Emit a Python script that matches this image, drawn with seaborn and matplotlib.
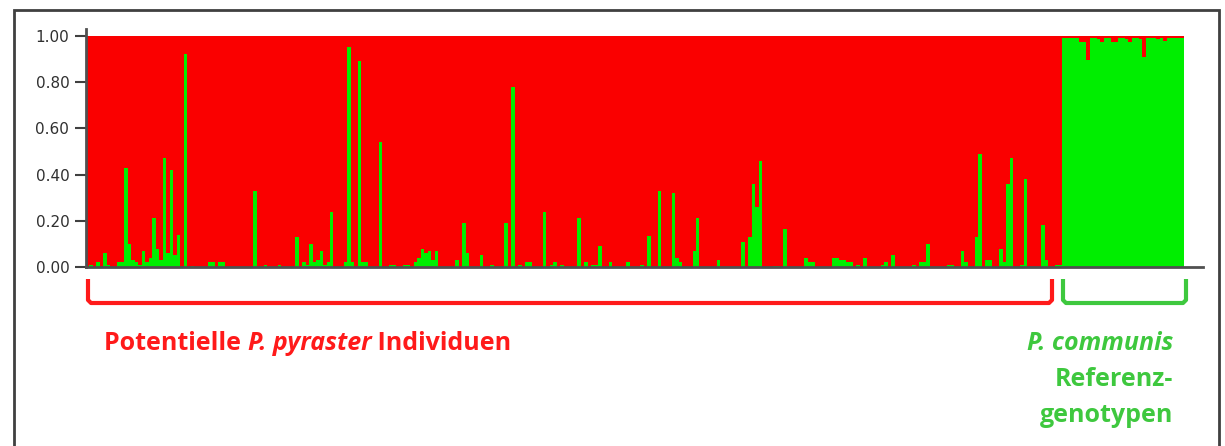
import numpy as np
import pandas as pd
import matplotlib
matplotlib.use("Agg")
import matplotlib.pyplot as plt
from matplotlib.lines import Line2D
from matplotlib.patches import Rectangle
import seaborn as sns

# green cluster membership (P. communis cluster) per individual
pyraster_green = [
    0, .01, 0, .02, 0, .06, .01, 0, 0, .02, .02, .43, .10, .03, .02, .01, .07, .02, .04, .21,
    .08, .03, .47, .06, .42, .05, .14, 0, .92, 0, .005, 0, 0, 0, 0, .02, .02, 0, .02, .02,
    0, 0, 0, 0, 0, 0, 0, 0, .33, 0, 0, .01, 0, 0, 0, .01, 0, 0, 0, 0,
    .13, 0, .02, .01, .10, .02, .03, .07, .01, .02, .24, 0, 0, 0, .02, .95, .02, 0, .89, .02,
    .02, 0, 0, 0, .54, 0, 0, .01, .01, 0, 0, .01, .01, 0, .02, .04, .08, .06, .07, .03,
    .07, 0, 0, 0, 0, 0, .03, 0, .19, .06, 0, 0, 0, .05, 0, 0, .01, 0, 0, 0,
    .19, 0, .78, 0, .01, 0, .02, .02, 0, 0, 0, .24, 0, .01, .02, 0, .01, 0, 0, 0,
    0, .21, 0, .02, 0, .01, .01, .09, 0, 0, .02, 0, 0, 0, 0, .02, 0, 0, 0, .01,
    0, .135, 0, 0, .33, 0, 0, 0, .32, .04, .02, 0, 0, 0, .07, .21, 0, 0, 0, 0,
    0, .03, 0, 0, 0, 0, 0, 0, .11, 0, .13, .36, .26, .46, 0, 0, 0, .005, .005, 0,
    .165, 0, 0, 0, 0, 0, .04, .02, .02, 0, 0, 0, 0, 0, .04, .04, .03, .03, .02, .02,
    0, .01, 0, .04, 0, 0, 0, 0, .01, .02, 0, .05, 0, 0, 0, 0, 0, .01, 0, .02,
    .02, .10, 0, 0, 0, 0, 0, .01, .01, 0, 0, .07, .02, 0, 0, .13, .49, 0, .03, .03,
    0, 0, .08, .02, .36, .47, 0, 0, .01, .38, 0, 0, 0, 0, .18, .03, 0, 0, .01, .01,
]
communis_green = [
    .99, .99, .99, .99, .99, .975, .975, .895, .99, .99, .985, .975, .99, .99, .975,
    .975, .99, .99, .985, .975, .99, .99, .985, .91, .99, .99, .99, .985, .99,
    .98, .99, .99, .99, .99, .99,
]
yticks = [0.0, 0.2, 0.4, 0.6, 0.8, 1.0]

green = pyraster_green + communis_green
n = len(green)
df = pd.DataFrame({"ind": range(n), "green": green, "total": [1.0] * n})

RED = "#fa0000"
GREEN = "#00ee00"

W, H = 1225, 446
fig = plt.figure(figsize=(W / 100, H / 100), dpi=100)
ax = fig.add_axes([86 / W, 1 - 267 / H, (1203 - 86) / W, (267 - 29) / H])

bar_kw = dict(width=1, errorbar=None, linewidth=0, edgecolor="none", antialiased=False)
sns.barplot(data=df, x="ind", y="total", color=RED, saturation=1, ax=ax, **bar_kw)
sns.barplot(data=df, x="ind", y="green", color=GREEN, saturation=1, ax=ax, **bar_kw)

ax.set_xlim(-0.5, n - 0.5 + 19 / 3.486)
ax.set_ylim(0, 1.03)
ax.set_xticks([])
ax.set_yticks(yticks)
ax.set_yticklabels([f"{t:.2f}" for t in yticks])
ax.set_xlabel("")
ax.set_ylabel("")
ax.tick_params(axis="y", length=8, width=1.5, color="#404040", labelsize=11,
               labelcolor="#303030", pad=4)
for side in ["top", "right"]:
    ax.spines[side].set_visible(False)
for side in ["left", "bottom"]:
    ax.spines[side].set_color("#505050")
    ax.spines[side].set_linewidth(2)
ax.set_facecolor("white")


def fx(x):
    return x / W


def fy(y):
    return 1 - y / H


# brackets below the bars
def bracket(x0, x1, color):
    xs = [x0, x0, x0 + 3, x1 - 3, x1, x1]
    ys = [279, 300, 303, 303, 300, 279]
    fig.add_artist(Line2D([fx(v) for v in xs], [fy(v) for v in ys], color=color,
                          lw=3, solid_capstyle="butt", solid_joinstyle="round"))


bracket(88, 1052, "#ff1a1a")
bracket(1063, 1186, "#3ec83e")

txt_kw = dict(fontsize=18, fontweight="bold", family=["Open Sans", "DejaVu Sans"])
red_txt = "#ff1a1a"
green_txt = "#3ec83e"
t1 = fig.text(fx(104), fy(344), "Potentielle ", color=red_txt, ha="left", va="center",
              **txt_kw)
t2 = ax.annotate("P. pyraster", xy=(1, 0.5), xycoords=t1, ha="left", va="center",
                 color=red_txt, style="italic", annotation_clip=False, **txt_kw)
ax.annotate(" Individuen", xy=(1, 0.5), xycoords=t2, ha="left", va="center",
            color=red_txt, annotation_clip=False, **txt_kw)
fig.text(fx(1173), fy(344), "P. communis", color=green_txt, ha="right", va="center",
         style="italic", **txt_kw)
fig.text(fx(1173), fy(380), "Referenz-", color=green_txt, ha="right", va="center", **txt_kw)
fig.text(fx(1173), fy(416), "genotypen", color=green_txt, ha="right", va="center", **txt_kw)

# frame around the figure
fig.add_artist(Rectangle((fx(14), -0.1), fx(1219 - 14), fy(10) + 0.1, fill=False,
                         edgecolor="#404040", lw=2, transform=fig.transFigure))

fig.savefig("out.png", dpi=100)
plt.close(fig)
